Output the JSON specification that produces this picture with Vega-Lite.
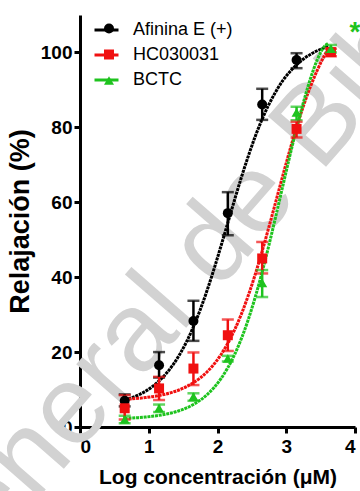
{
  "$schema": "https://vega.github.io/schema/vega-lite/v6.json",
  "width": 275,
  "height": 412,
  "autosize": {"type": "none"},
  "padding": {"left": 80, "top": 15, "right": 5, "bottom": 64},
  "background": "white",
  "config": {
    "view": {"stroke": null},
    "font": "Liberation Sans",
    "axis": {
      "domainColor": "black", "domainWidth": 3, "tickColor": "black", "tickWidth": 3, "tickSize": 6,
      "labelFont": "Liberation Sans", "labelFontWeight": "bold", "labelFontSize": 19, "labelColor": "black",
      "titleFont": "Liberation Sans", "titleFontWeight": "bold", "titleColor": "black", "grid": false, "zindex": 1
    },
    "legend": {"padding": 0, "labelFont": "Liberation Sans", "labelFontSize": 18, "labelColor": "black"}
  },
  "datasets": {
    "curves": [
      {"series": "Afinina E (+)", "x": 0.65, "y": 7.17}, {"series": "Afinina E (+)", "x": 0.75, "y": 7.78},
      {"series": "Afinina E (+)", "x": 0.85, "y": 8.55}, {"series": "Afinina E (+)", "x": 0.95, "y": 9.52},
      {"series": "Afinina E (+)", "x": 1.05, "y": 10.75}, {"series": "Afinina E (+)", "x": 1.15, "y": 12.29},
      {"series": "Afinina E (+)", "x": 1.25, "y": 14.19}, {"series": "Afinina E (+)", "x": 1.35, "y": 16.53},
      {"series": "Afinina E (+)", "x": 1.45, "y": 19.37}, {"series": "Afinina E (+)", "x": 1.55, "y": 22.77},
      {"series": "Afinina E (+)", "x": 1.65, "y": 26.77}, {"series": "Afinina E (+)", "x": 1.75, "y": 31.37},
      {"series": "Afinina E (+)", "x": 1.85, "y": 36.55}, {"series": "Afinina E (+)", "x": 1.95, "y": 42.22},
      {"series": "Afinina E (+)", "x": 2.05, "y": 48.27}, {"series": "Afinina E (+)", "x": 2.15, "y": 54.5},
      {"series": "Afinina E (+)", "x": 2.25, "y": 60.74}, {"series": "Afinina E (+)", "x": 2.35, "y": 66.8},
      {"series": "Afinina E (+)", "x": 2.45, "y": 72.44}, {"series": "Afinina E (+)", "x": 2.55, "y": 77.63},
      {"series": "Afinina E (+)", "x": 2.65, "y": 82.22}, {"series": "Afinina E (+)", "x": 2.75, "y": 86.2},
      {"series": "Afinina E (+)", "x": 2.85, "y": 89.6}, {"series": "Afinina E (+)", "x": 2.95, "y": 92.5},
      {"series": "Afinina E (+)", "x": 3.05, "y": 94.8}, {"series": "Afinina E (+)", "x": 3.15, "y": 96.7},
      {"series": "Afinina E (+)", "x": 3.25, "y": 98.25}, {"series": "Afinina E (+)", "x": 3.35, "y": 99.47},
      {"series": "Afinina E (+)", "x": 3.45, "y": 100.45}, {"series": "Afinina E (+)", "x": 3.55, "y": 101.23},
      {"series": "Afinina E (+)", "x": 3.62, "y": 101.8},
      {"series": "HC030031", "x": 0.65, "y": 7.4}, {"series": "HC030031", "x": 0.75, "y": 7.51},
      {"series": "HC030031", "x": 0.85, "y": 7.66}, {"series": "HC030031", "x": 0.95, "y": 7.85},
      {"series": "HC030031", "x": 1.05, "y": 8.09}, {"series": "HC030031", "x": 1.15, "y": 8.4},
      {"series": "HC030031", "x": 1.25, "y": 8.8}, {"series": "HC030031", "x": 1.35, "y": 9.31},
      {"series": "HC030031", "x": 1.45, "y": 9.95}, {"series": "HC030031", "x": 1.55, "y": 10.78},
      {"series": "HC030031", "x": 1.65, "y": 11.82}, {"series": "HC030031", "x": 1.75, "y": 13.13},
      {"series": "HC030031", "x": 1.85, "y": 14.76}, {"series": "HC030031", "x": 1.95, "y": 16.8},
      {"series": "HC030031", "x": 2.05, "y": 19.3}, {"series": "HC030031", "x": 2.15, "y": 22.34},
      {"series": "HC030031", "x": 2.25, "y": 25.98}, {"series": "HC030031", "x": 2.35, "y": 30.28},
      {"series": "HC030031", "x": 2.45, "y": 35.24}, {"series": "HC030031", "x": 2.55, "y": 40.82},
      {"series": "HC030031", "x": 2.65, "y": 46.97}, {"series": "HC030031", "x": 2.75, "y": 53.53},
      {"series": "HC030031", "x": 2.85, "y": 60.31}, {"series": "HC030031", "x": 2.95, "y": 67.13},
      {"series": "HC030031", "x": 3.05, "y": 73.75}, {"series": "HC030031", "x": 3.15, "y": 79.97},
      {"series": "HC030031", "x": 3.25, "y": 85.72}, {"series": "HC030031", "x": 3.35, "y": 90.79},
      {"series": "HC030031", "x": 3.45, "y": 95.21}, {"series": "HC030031", "x": 3.55, "y": 98.98},
      {"series": "HC030031", "x": 3.62, "y": 101.2},
      {"series": "BCTC", "x": 0.65, "y": 2.29}, {"series": "BCTC", "x": 0.75, "y": 2.38},
      {"series": "BCTC", "x": 0.85, "y": 2.5}, {"series": "BCTC", "x": 0.95, "y": 2.65},
      {"series": "BCTC", "x": 1.05, "y": 2.84}, {"series": "BCTC", "x": 1.15, "y": 3.1},
      {"series": "BCTC", "x": 1.25, "y": 3.42}, {"series": "BCTC", "x": 1.35, "y": 3.85},
      {"series": "BCTC", "x": 1.45, "y": 4.4}, {"series": "BCTC", "x": 1.55, "y": 5.11},
      {"series": "BCTC", "x": 1.65, "y": 6.02}, {"series": "BCTC", "x": 1.75, "y": 7.18},
      {"series": "BCTC", "x": 1.85, "y": 8.67}, {"series": "BCTC", "x": 1.95, "y": 10.54},
      {"series": "BCTC", "x": 2.05, "y": 12.9}, {"series": "BCTC", "x": 2.15, "y": 15.82},
      {"series": "BCTC", "x": 2.25, "y": 19.4}, {"series": "BCTC", "x": 2.35, "y": 23.72},
      {"series": "BCTC", "x": 2.45, "y": 28.84}, {"series": "BCTC", "x": 2.55, "y": 34.75},
      {"series": "BCTC", "x": 2.65, "y": 41.42}, {"series": "BCTC", "x": 2.75, "y": 48.71},
      {"series": "BCTC", "x": 2.85, "y": 56.45}, {"series": "BCTC", "x": 2.95, "y": 64.37},
      {"series": "BCTC", "x": 3.05, "y": 72.22}, {"series": "BCTC", "x": 3.15, "y": 79.72},
      {"series": "BCTC", "x": 3.25, "y": 86.67}, {"series": "BCTC", "x": 3.35, "y": 92.9},
      {"series": "BCTC", "x": 3.45, "y": 98.0}, {"series": "BCTC", "x": 3.55, "y": 101.5},
      {"series": "BCTC", "x": 3.61, "y": 102.4}
    ],
    "points": [
      {"series": "Afinina E (+)", "x": 0.65, "y": 7.0, "lo": 5.5, "hi": 8.7},
      {"series": "Afinina E (+)", "x": 1.15, "y": 16.5, "lo": 13.2, "hi": 20.0},
      {"series": "Afinina E (+)", "x": 1.65, "y": 28.3, "lo": 23.0, "hi": 33.7},
      {"series": "Afinina E (+)", "x": 2.15, "y": 57.1, "lo": 51.2, "hi": 62.7},
      {"series": "Afinina E (+)", "x": 2.65, "y": 86.1, "lo": 82.0, "hi": 90.3},
      {"series": "Afinina E (+)", "x": 3.15, "y": 98.0, "lo": 95.8, "hi": 99.8},
      {"series": "HC030031", "x": 0.65, "y": 5.0, "lo": 2.0, "hi": 8.5},
      {"series": "HC030031", "x": 1.15, "y": 10.3, "lo": 7.2, "hi": 13.4},
      {"series": "HC030031", "x": 1.65, "y": 15.6, "lo": 11.2, "hi": 19.9},
      {"series": "HC030031", "x": 2.15, "y": 24.5, "lo": 20.3, "hi": 28.7},
      {"series": "HC030031", "x": 2.65, "y": 45.0, "lo": 41.0, "hi": 49.4},
      {"series": "HC030031", "x": 3.15, "y": 79.6, "lo": 77.3, "hi": 81.5},
      {"series": "HC030031", "x": 3.65, "y": 100.1, "lo": 99.0, "hi": 101.0},
      {"series": "BCTC", "x": 0.65, "y": 2.0, "lo": 1.0, "hi": 3.0},
      {"series": "BCTC", "x": 1.15, "y": 5.0, "lo": 4.0, "hi": 6.0},
      {"series": "BCTC", "x": 1.65, "y": 8.1, "lo": 7.0, "hi": 9.0},
      {"series": "BCTC", "x": 2.15, "y": 18.3, "lo": 17.5, "hi": 19.0},
      {"series": "BCTC", "x": 2.65, "y": 38.5, "lo": 34.7, "hi": 41.9},
      {"series": "BCTC", "x": 3.15, "y": 84.0, "lo": 81.9, "hi": 85.5},
      {"series": "BCTC", "x": 3.65, "y": 101.0, "lo": 100.0, "hi": 102.0}
    ],
    "notes": [{"x": 4.0, "y": 106.4, "label": "*"}],
    "watermark": [{"label": "General de Bibliotecas"}]
  },
  "layer": [
    {
      "data": {"name": "watermark"},
      "mark": {"type": "text", "color": "#d2d2d2", "font": "Liberation Sans", "fontSize": 112, "angle": -49, "align": "center", "baseline": "alphabetic"},
      "encoding": {
        "x": {"datum": 3.284, "type": "quantitative", "scale": {"domain": [0, 4]},
              "axis": {"values": [0, 1, 2, 3, 4], "format": "d", "labelPadding": 4, "titlePadding": 10, "titleFontSize": 21},
              "title": "Log concentración (μM)"},
        "y": {"datum": 63.2, "type": "quantitative", "scale": {"domain": [0, 110]},
              "axis": {"values": [0, 20, 40, 60, 80, 100], "labelPadding": 2, "titlePadding": 6, "titleFontSize": 27},
              "title": "Relajación (%)"},
        "text": {"field": "label"}
      }
    },
    {
      "data": {"name": "curves"},
      "mark": {"type": "line", "strokeWidth": 3, "strokeDash": [3, 0.8], "interpolate": "monotone"},
      "encoding": {
        "x": {"field": "x", "type": "quantitative", "title": "Log concentración (μM)"},
        "y": {"field": "y", "type": "quantitative", "title": "Relajación (%)"},
        "stroke": {"field": "series", "type": "nominal", "sort": null,
                   "scale": {"range": ["#000000", "#f01010", "#1ec31e"]},
                   "legend": {"title": null, "orient": "none", "legendX": 13, "legendY": 1.5,
                              "symbolType": "stroke", "symbolSize": 576, "symbolStrokeWidth": 3,
                              "labelOffset": 13, "rowPadding": 2}}
      }
    },
    {
      "data": {"name": "points"},
      "mark": {"type": "errorbar", "thickness": 2.5, "ticks": {"size": 12, "thickness": 2.5}},
      "encoding": {
        "x": {"field": "x", "type": "quantitative", "title": "Log concentración (μM)"},
        "y": {"field": "lo", "type": "quantitative", "title": "Relajación (%)"},
        "y2": {"field": "hi"},
        "color": {"field": "series", "type": "nominal", "sort": null,
                  "scale": {"range": ["#000000", "#f01010", "#1ec31e"]},
                  "legend": null}
      }
    },
    {
      "data": {"name": "points"},
      "mark": {"type": "point", "filled": true, "size": 100, "opacity": 1},
      "encoding": {
        "x": {"field": "x", "type": "quantitative", "title": "Log concentración (μM)"},
        "y": {"field": "y", "type": "quantitative", "title": "Relajación (%)"},
        "fill": {"field": "series", "type": "nominal",
                 "scale": {"domain": ["Afinina E (+)", "HC030031", "BCTC"], "range": ["#000000", "#f01010", "#1ec31e"]},
                 "legend": {"title": null, "orient": "none", "legendX": 20, "legendY": 4.5, "labelExpr": "''", "rowPadding": 8}},
        "shape": {"field": "series", "type": "nominal",
                  "scale": {"domain": ["Afinina E (+)", "HC030031", "BCTC"], "range": ["circle", "square", "triangle-up"]},
                  "legend": {"title": null, "orient": "none", "legendX": 20, "legendY": 4.5, "labelExpr": "''", "rowPadding": 8}}
      }
    },
    {
      "data": {"name": "notes"},
      "mark": {"type": "text", "color": "#1ec31e", "fontSize": 28, "fontWeight": "bold", "baseline": "middle", "align": "center", "dy": 5},
      "encoding": {
        "x": {"field": "x", "type": "quantitative"},
        "y": {"field": "y", "type": "quantitative"},
        "text": {"field": "label"}
      }
    }
  ]
}
